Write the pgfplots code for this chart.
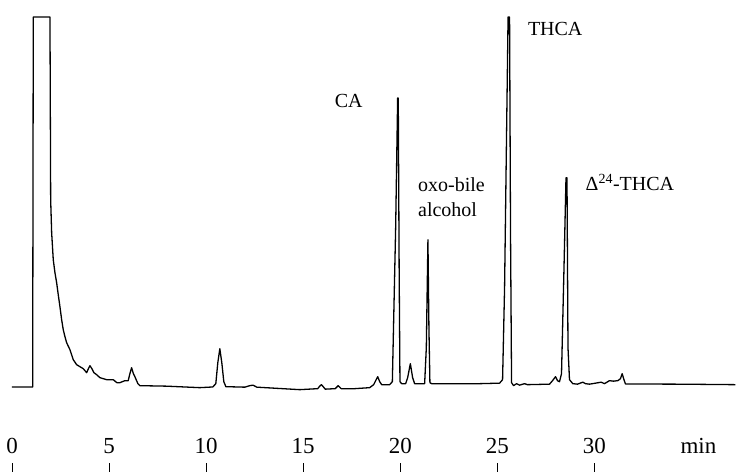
\documentclass[border=0pt]{standalone}
\usepackage{pgfplots}
\pgfplotsset{compat=1.18}
\usepackage{pgfplotstable}
\usepackage{fontspec}
\setmainfont{Liberation Serif}

\pgfplotstableread{
t s
0.000 0.7
1.065 0.7
1.096 371
1.956 371
1.992 188
2.043 155
2.126 128
2.213 115
2.300 105
2.383 93
2.470 81
2.558 68
2.640 58
2.728 51
2.815 45
2.985 38
3.155 28
3.330 23
3.500 21
3.670 19
3.845 15
3.937 19
4.014 22
4.117 19
4.220 15
4.359 13
4.529 10
4.874 8
5.214 8
5.404 5
5.558 5
5.816 7
5.986 7
6.073 14
6.161 20
6.253 14
6.330 11
6.485 4
6.588 2
7.962 1.5
9.676 0
10.345 0.7
10.499 4
10.602 25
10.705 39
10.808 25
10.911 6
11.015 1
11.992 0.5
12.249 2
12.419 2.5
12.610 0.5
14.823 -2
15.749 -1
15.852 1.5
15.939 3
16.031 1
16.135 -1.5
16.650 -1
16.804 2
16.958 -1
17.653 -1
18.425 0
18.631 3
18.734 7
18.837 11
18.940 6
19.043 3
19.249 3
19.454 3
19.593 6
19.763 160
19.866 290
19.897 290
19.943 120
19.985 6
20.072 4
20.278 4
20.381 10
20.520 24
20.638 10
20.741 4
20.896 4
21.256 4
21.343 40
21.426 148
21.477 60
21.528 5
21.616 4
22.542 4
24.086 4
25.116 4.5
25.271 8
25.374 100
25.554 371
25.631 371
25.682 150
25.734 5
25.837 2
25.991 4
26.145 2.5
26.402 4
26.557 3
27.689 3.5
27.843 7
27.998 11
28.101 7
28.204 6
28.307 14
28.435 120
28.538 210
28.589 210
28.641 40
28.718 8
28.888 4
29.130 3.5
29.403 5.5
29.542 4
29.748 3.5
30.057 4.5
30.350 5.5
30.520 4
30.777 7
30.983 6.5
31.205 7
31.344 9
31.431 14
31.524 8
31.601 3.7
34.380 3.5
37.262 3
}\chromdata

\begin{document}
\begin{tikzpicture}
\begin{axis}[
  width=736pt, height=472pt, scale only axis,
  xmin=-0.618, xmax=37.262,
  ymin=-84, ymax=388,
  axis line style={draw=none},
  ytick=\empty,
  xtick={0,5,10,15,20,25,30},
  xticklabels={0,5,10,15,20,25,30},
  xtick pos=bottom,
  tick align=inside,
  major tick length=9pt,
  tick style={black, line width=0.6pt},
  xticklabel style={anchor=base, yshift=17.7pt, font=\fontsize{23}{27}\selectfont},
  clip=false,
]
\addplot[black, line width=1.3pt, line join=round, no marks] table[x=t, y=s] {\chromdata};
\node[anchor=base, inner sep=0, font=\fontsize{20}{24}\selectfont] at (axis cs:17.344,280.5) {CA};
\node[anchor=base west, inner sep=0, font=\fontsize{20}{24}\selectfont] at (axis cs:20.911,196.3) {oxo-bile};
\node[anchor=base west, inner sep=0, font=\fontsize{20}{24}\selectfont] at (axis cs:20.911,171) {alcohol};
\node[anchor=base west, inner sep=0, font=\fontsize{20}{24}\selectfont] at (axis cs:26.572,352) {THCA};
\node[anchor=base west, inner sep=0, font=\fontsize{20}{24}\selectfont] at (axis cs:29.542,197.3) {Δ\textsuperscript{24}-THCA};
\node[anchor=base, inner sep=0, font=\fontsize{23}{27}\selectfont] at (axis cs:35.357,-66.3) {min};
\end{axis}
\end{tikzpicture}
\end{document}
